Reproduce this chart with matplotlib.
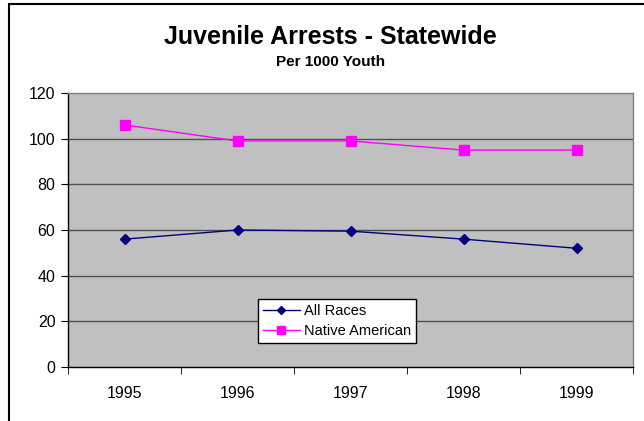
import matplotlib
matplotlib.use("Agg")
import matplotlib.pyplot as plt
from matplotlib.patches import Rectangle

years = ["1995", "1996", "1997", "1998", "1999"]
all_races = [56, 60, 59.5, 56, 52]
native_american = [106, 99, 99, 95, 95]
y_ticks = [0, 20, 40, 60, 80, 100, 120]

plt.rcParams['font.family'] = ['Liberation Sans', 'DejaVu Sans']

fig = plt.figure(figsize=(6.44, 4.21), dpi=100)
ax = fig.add_axes([68/644, 1-367/421, (633-68)/644, (367-93)/421])
ax.set_facecolor('#C0C0C0')

x = list(range(len(years)))
ax.plot(x, all_races, color='#000080', marker='D', markersize=5, lw=1, label='All Races', zorder=3)
ax.plot(x, native_american, color='#FF00FF', marker='s', markersize=7, lw=1, label='Native American', zorder=3)

ax.set_xlim(-0.5, len(years)-0.5)
ax.set_ylim(0, 120)
ax.set_yticks(y_ticks)
ax.set_yticklabels([str(v) for v in y_ticks], fontsize=11.5)
ax.set_xticks(x)
ax.set_xticklabels(years, fontsize=11.5)
ax.tick_params(axis='x', length=0, pad=14)
ax.set_xticks([i - 0.5 for i in range(len(years)+1)], minor=True)
ax.tick_params(axis='x', which='minor', length=5, direction='out', color='black')
ax.tick_params(axis='y', length=5, direction='out', color='black', pad=4)

for v in y_ticks[1:-1]:
    ax.axhline(v, color='#505050', lw=1, zorder=1)

ax.spines['left'].set_color('black')
ax.spines['bottom'].set_color('black')
ax.spines['top'].set_color('#808080')
ax.spines['right'].set_color('#808080')
for s in ax.spines.values():
    s.set_linewidth(1)

leg = ax.legend(loc='upper left', bbox_to_anchor=((258-68)/565, (367-299)/274),
                fontsize=10.5, frameon=True, fancybox=False, framealpha=1,
                edgecolor='black', handlelength=2.5, borderpad=0.35, labelspacing=0.4,
                handletextpad=0.3, borderaxespad=0, markerscale=0.8)
leg.get_frame().set_linewidth(1)

fig.text(330/644, 1-37/421, "Juvenile Arrests - Statewide", ha='center', va='center',
         fontsize=18, fontweight='bold')
fig.text(331/644, 1-62/421, "Per 1000 Youth", ha='center', va='center',
         fontsize=11, fontweight='bold')

fig.patches.append(Rectangle((9/644, -0.1), 1.2, 1.1 - 4.5/421, transform=fig.transFigure,
                             fill=False, edgecolor='black', lw=1.5))

fig.savefig("out.png", dpi=100)
